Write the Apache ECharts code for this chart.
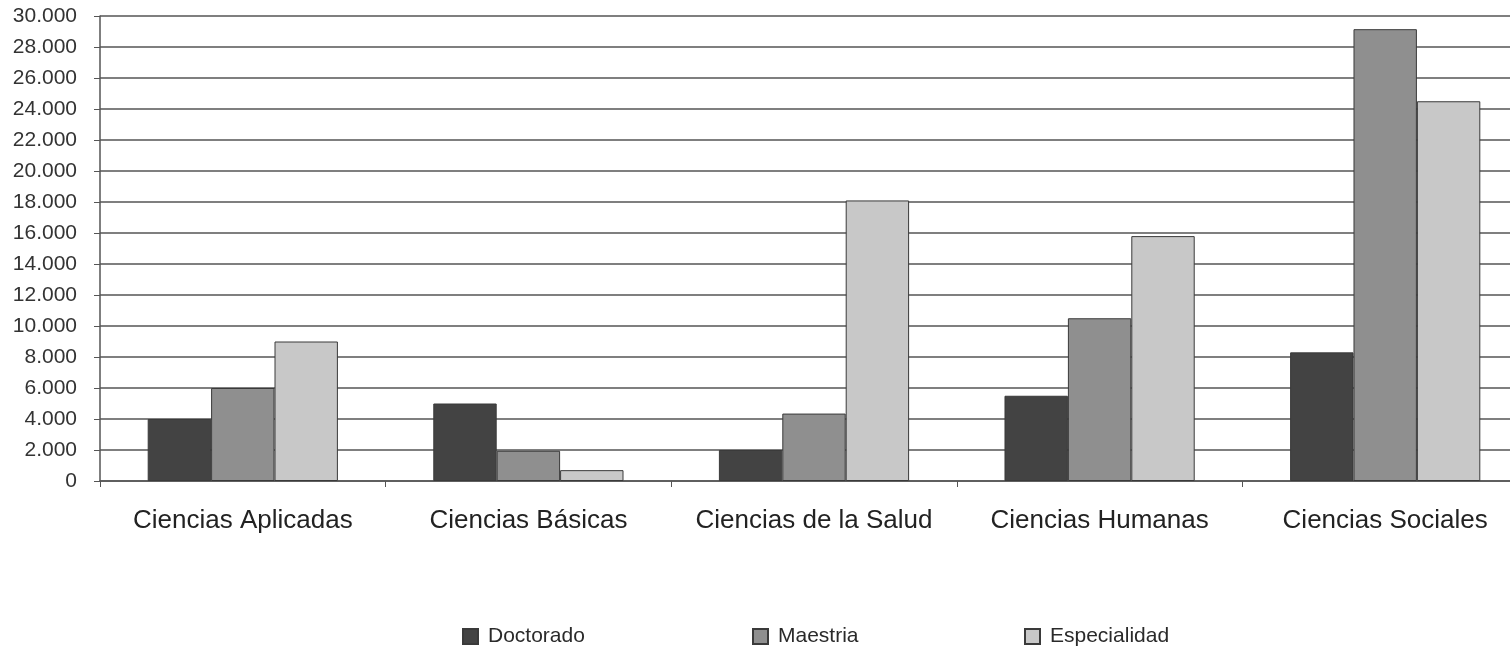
<!DOCTYPE html>
<html>
<head>
<meta charset="utf-8">
<script src="https://cdn.jsdelivr.net/npm/echarts@6/dist/echarts.min.js"></script>
<style>
html,body{margin:0;padding:0;background:#fff;overflow:hidden;}
#wrap{width:1510px;height:648px;overflow:hidden;position:relative;}
#chart{width:1528px;height:648px;position:absolute;left:0;top:0;}
</style>
</head>
<body>
<div id="wrap"><div id="chart"></div></div>
<script>
const categories = ["Ciencias Aplicadas", "Ciencias Básicas", "Ciencias de la Salud", "Ciencias Humanas", "Ciencias Sociales"];
const doctorado = [4000, 5000, 2000, 5500, 8300];
const maestria = [6000, 1950, 4350, 10500, 29150];
const especialidad = [9000, 700, 18100, 15800, 24500];
const seriesNames = ["Doctorado", "Maestria", "Especialidad"];

const chart = echarts.init(document.getElementById('chart'));
const font = "'Liberation Sans', Arial, sans-serif";
function fmt(v){ return v === 0 ? '0' : String(v).replace(/\B(?=(\d{3})+(?!\d))/g, '.'); }
const barStyle = (c) => ({ color: c, borderColor: '#3a3a3a', borderWidth: 1 });
const legendBase = (name, left) => ({
  top: 626, left: left, icon: 'rect', padding: 0,
  itemWidth: 15, itemHeight: 15,
  textStyle: { fontFamily: font, fontSize: 21, color: '#2a2a2a', padding: [0, 0, 0, 5] },
  data: [name]
});
chart.setOption({
  animation: false,
  backgroundColor: '#fff',
  textStyle: { fontFamily: font },
  grid: { left: 100, right: 0, top: 16, bottom: 167, containLabel: false },
  legend: [
    legendBase(seriesNames[0], 462),
    legendBase(seriesNames[1], 752),
    legendBase(seriesNames[2], 1024)
  ],
  xAxis: {
    type: 'category', data: categories,
    axisLine: { lineStyle: { color: '#555', width: 1.5 } },
    axisTick: { show: true, length: 6, lineStyle: { color: '#555' } },
    axisLabel: { interval: 0, fontSize: 26, color: '#222', margin: 27, fontFamily: font }
  },
  yAxis: {
    type: 'value', min: 0, max: 30000, interval: 2000,
    axisLine: { show: true, lineStyle: { color: '#555', width: 1.5 } },
    axisTick: { show: true, length: 6, lineStyle: { color: '#555' } },
    splitLine: { lineStyle: { color: '#555', width: 1.5 } },
    axisLabel: { fontSize: 21, color: '#333', margin: 23, fontFamily: font, formatter: fmt }
  },
  series: [
    { name: seriesNames[0], type: 'bar', data: doctorado, barGap: '0%', barCategoryGap: '33.4%', itemStyle: barStyle('#434343') },
    { name: seriesNames[1], type: 'bar', data: maestria, barGap: '0%', barCategoryGap: '33.4%', itemStyle: barStyle('#8f8f8f') },
    { name: seriesNames[2], type: 'bar', data: especialidad, barGap: '0%', barCategoryGap: '33.4%', itemStyle: barStyle('#c8c8c8') }
  ]
});
</script>
</body>
</html>
